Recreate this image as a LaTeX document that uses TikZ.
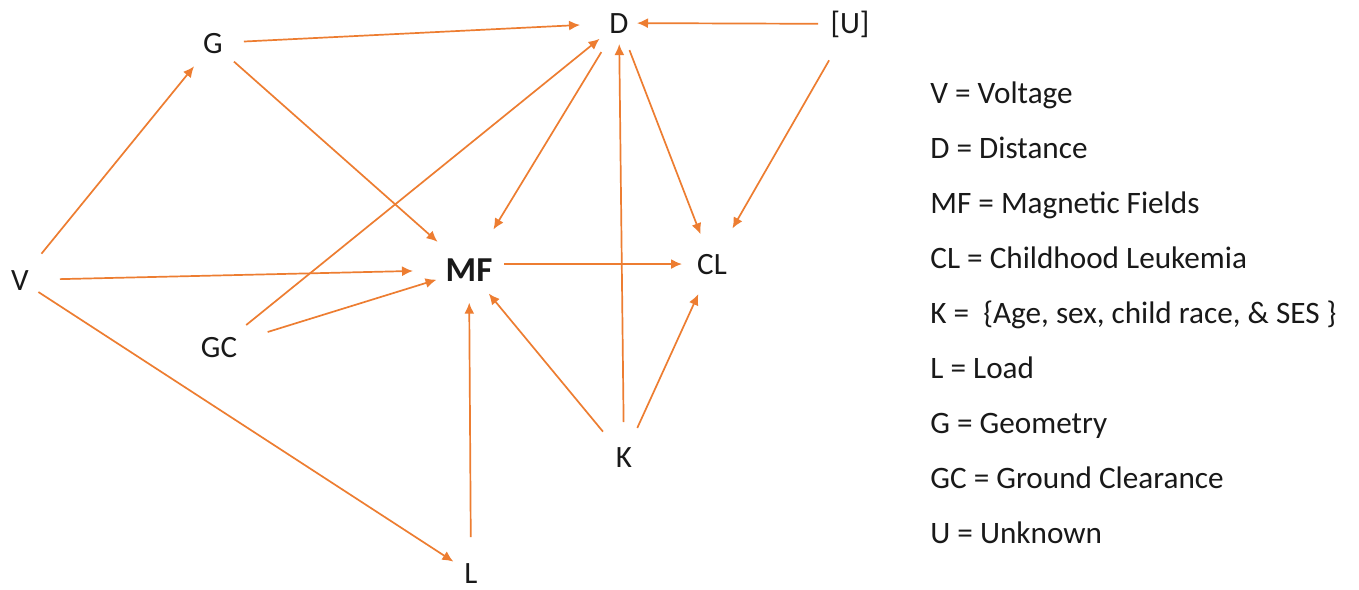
\documentclass[tikz,border=0pt]{standalone}
\usepackage{fontspec}
\setmainfont{Carlito}
\usetikzlibrary{arrows.meta}
\definecolor{arrorange}{RGB}{237,125,49}
\definecolor{txt}{RGB}{25,25,25}
\begin{document}
\begin{tikzpicture}[x=0.5pt,y=-0.5pt,
  lbl/.style={inner sep=0pt, font=\fontsize{15.5}{18}\selectfont, text=txt, anchor=base},
  legend/.style={inner sep=0pt, font=\fontsize{15.6}{18}\selectfont, text=txt, anchor=base west},
  arr/.style={draw=arrorange, line width=0.85pt, -{Latex[length=5.5pt,width=5pt]}}]
\useasboundingbox (0,0) rectangle (1359,589);
\fill[white] (0,0) rectangle (1359,589);
% nodes
\node[lbl] (G) at (213,53) {G};
\node[lbl] (D) at (619,33) {D};
\node[lbl] (U) at (850,33) {[U]};
\node[lbl] (V) at (20,290) {V};
\node[lbl, font=\fontsize{17.5}{20}\selectfont\bfseries] (MF) at (469,281) {MF};
\node[lbl] (CL) at (712,274) {CL};
\node[lbl] (GC) at (219,357) {GC};
\node[lbl] (K) at (624,467) {K};
\node[lbl] (L) at (471,583) {L};
% edges
\draw[arr, shorten <=17pt, shorten >=15pt] (V.center) -- (G.center);
\draw[arr, shorten <=20pt, shorten >=28pt] (V.center) -- (MF.center);
\draw[arr, shorten <=11pt, shorten >=10.5pt] (V.center) -- (L.center);
\draw[arr, shorten <=15.5pt, shorten >=19.5pt] (G.center) -- (D.center);
\draw[arr, shorten <=14pt, shorten >=21pt] (G.center) -- (MF.center);
\draw[arr, shorten <=17.5pt, shorten >=12.5pt] (GC.center) -- (D.center);
\draw[arr, shorten <=25.5pt, shorten >=17pt] (GC.center) -- (MF.center);
\draw[arr, shorten <=17pt, shorten >=23.5pt] (D.center) -- (MF.center);
\draw[arr, shorten <=14.5pt, shorten >=16pt] (D.center) -- (CL.center);
\draw[arr, shorten <=16pt, shorten >=9pt] (U.center) -- (D.center);
\draw[arr, shorten <=21pt, shorten >=20.5pt] (U.center) -- (CL.center);
\draw[arr, shorten <=17.5pt, shorten >=15pt] (MF.center |- CL.center) -- (CL.center);
\draw[arr, shorten <=17.5pt, shorten >=10.5pt] (K.center) -- (D.center);
\draw[arr, shorten <=16.5pt, shorten >=15.5pt] (K.center) -- (MF.center);
\draw[arr, shorten <=16pt, shorten >=16.5pt] (K.center) -- (CL.center);
\draw[arr, shorten <=18pt, shorten >=16.5pt] (L.center) -- (MF.center);
% legend
\node[legend] (l1) at (930,103) {V = Voltage};
\node[legend] (l2) at (930,158) {D = Distance};
\node[legend] (l3) at (930,213) {MF = Magnetic Fields};
\node[legend] (l4) at (930,268) {CL = Childhood Leukemia};
\node[legend] (l5) at (930,323) {K = \ \{Age, sex, child race, \& SES \}};
\node[legend] (l6) at (930,378) {L = Load};
\node[legend] (l7) at (930,433) {G = Geometry};
\node[legend] (l8) at (930,488) {GC = Ground Clearance};
\node[legend] (l9) at (930,543) {U = Unknown};
\end{tikzpicture}
\end{document}
